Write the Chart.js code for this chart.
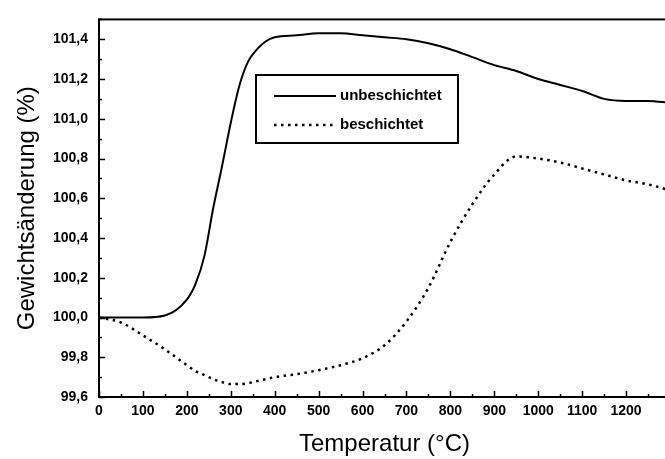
<!DOCTYPE html>
<html>
<head>
<meta charset="utf-8">
<script src="https://cdn.jsdelivr.net/npm/chart.js@4.4.1/dist/chart.umd.min.js"></script>
<style>
  html, body { margin: 0; padding: 0; background: #fff; overflow: hidden; }
  canvas { display: block; }
</style>
</head>
<body>
<canvas id="tgChart" width="672" height="459"></canvas>
<script>
    // data

const temps = [0, 50, 100, 150, 200, 220, 240, 260, 280, 300, 320, 340, 360, 380, 400, 450,
  500, 550, 600, 650, 700, 750, 800, 850, 900, 950, 1000, 1050, 1100, 1150, 1200, 1250, 1300];

const unbeschichtet = [100.00, 100.00, 100.00, 100.01, 100.09, 100.17, 100.31, 100.55, 100.76, 100.98,
  101.17, 101.29, 101.35, 101.39, 101.41, 101.42, 101.43, 101.43, 101.42, 101.41, 101.40, 101.38,
  101.35, 101.31, 101.27, 101.24, 101.20, 101.17, 101.14, 101.10, 101.09, 101.09, 101.08];

const beschichtet = [100.00, 99.975, 99.91, 99.84, 99.76, 99.73, 99.71, 99.69, 99.675, 99.665,
  99.665, 99.67, 99.68, 99.69, 99.70, 99.715, 99.735, 99.76, 99.795, 99.86, 99.98, 100.15,
  100.38, 100.57, 100.72, 100.81, 100.80, 100.78, 100.75, 100.72, 100.69, 100.67, 100.64];

const xTicks = [0, 100, 200, 300, 400, 500, 600, 700, 800, 900, 1000, 1100, 1200];
const yTicks = [99.6, 99.8, 100.0, 100.2, 100.4, 100.6, 100.8, 101.0, 101.2, 101.4];

const FONT = '"Liberation Sans", Arial, sans-serif';

const toPoints = (vals) => temps.map((t, i) => ({ x: t, y: vals[i] }));

    // plugins

  // frame + inward tick marks (major and minor)
  const frameTicks = {
    id: 'frameTicks',
    afterDatasetsDraw(chart) {
      const { ctx, chartArea: a, scales: { x, y } } = chart;
      ctx.save();
      ctx.strokeStyle = '#000';
      ctx.lineWidth = 2;
      ctx.strokeRect(a.left, a.top, a.right - a.left, a.bottom - a.top);
      ctx.lineWidth = 1.5;
      ctx.beginPath();
      for (let v = 0; v <= 1300; v += 50) {
        const px = Math.round(x.getPixelForValue(v)) + 0.5;
        const len = v % 100 === 0 ? 6 : 3;
        ctx.moveTo(px, a.bottom);
        ctx.lineTo(px, a.bottom - len);
      }
      for (let k = 0; k <= 19; k++) {
        const v = 99.6 + k * 0.1;
        const py = Math.round(y.getPixelForValue(v)) + 0.5;
        const len = k % 2 === 0 ? 6 : 3;
        ctx.moveTo(a.left, py);
        ctx.lineTo(a.left + len, py);
      }
      ctx.stroke();
      ctx.restore();
    }
  };

  // boxed legend inside the plot
  const boxLegend = {
    id: 'boxLegend',
    afterDraw(chart) {
      const { ctx } = chart;
      const bx = 256, by = 75, bw = 202, bh = 68;
      ctx.save();
      ctx.fillStyle = '#fff';
      ctx.fillRect(bx, by, bw, bh);
      ctx.strokeStyle = '#000';
      ctx.lineWidth = 2;
      ctx.strokeRect(bx, by, bw, bh);
      ctx.font = 'bold 15px ' + FONT;
      ctx.textBaseline = 'middle';
      chart.data.datasets.forEach((ds, i) => {
        const ry = by + 21 + i * 29;
        ctx.beginPath();
        ctx.lineWidth = ds.borderWidth;
        ctx.setLineDash(ds.borderDash || []);
        ctx.moveTo(bx + 18, ry);
        ctx.lineTo(bx + 80, ry);
        ctx.stroke();
        ctx.setLineDash([]);
        ctx.fillStyle = '#000';
        ctx.fillText(ds.label, bx + 84, ry);
      });
      ctx.restore();
    }
  };

    // config

  const tgChart = new Chart(document.getElementById('tgChart'), {
    type: 'line',
    data: {
      datasets: [{
        label: 'unbeschichtet',
        data: toPoints(unbeschichtet),
        borderColor: '#000',
        borderWidth: 2,
        pointRadius: 0,
        cubicInterpolationMode: 'monotone'
      }, {
        label: 'beschichtet',
        data: toPoints(beschichtet),
        borderColor: '#000',
        borderWidth: 2.5,
        borderDash: [2.5, 4.5],
        pointRadius: 0,
        cubicInterpolationMode: 'monotone'
      }]
    },
    options: {
      responsive: false,
      animation: false,
      devicePixelRatio: 1,
      layout: { padding: { top: 15, right: 2, left: 0, bottom: 0 } },
      plugins: { legend: { display: false }, tooltip: { enabled: false } },
      scales: {
        x: {
          type: 'linear',
          min: 0,
          max: 1300,
          afterBuildTicks: (s) => { s.ticks = xTicks.map(v => ({ value: v })); },
          afterFit: (s) => { s.height = 62; },
          grid: { display: false, drawTicks: false },
          border: { display: false },
          ticks: {
            color: '#000',
            padding: 6,
            maxRotation: 0,
            autoSkip: false,
            font: { family: FONT, size: 14, weight: 'bold' },
            callback: (v) => String(v)
          },
          title: {
            display: true,
            text: 'Temperatur (°C)',
            color: '#000',
            padding: { top: 0, bottom: 0 },
            font: { family: FONT, size: 24 }
          }
        },
        y: {
          min: 99.6,
          max: 101.5,
          afterBuildTicks: (s) => { s.ticks = yTicks.map(v => ({ value: v })); },
          afterFit: (s) => { s.width = 99; },
          grid: { display: false, drawTicks: false },
          border: { display: false },
          ticks: {
            color: '#000',
            padding: 11,
            autoSkip: false,
            font: { family: FONT, size: 14, weight: 'bold' },
            callback: (v) => Number(v).toFixed(1).replace('.', ',')
          },
          title: {
            display: true,
            text: 'Gewichtsänderung (%)',
            color: '#000',
            padding: { top: 13, bottom: 0 },
            font: { family: FONT, size: 24 }
          }
        }
      }
    },
    plugins: [frameTicks, boxLegend]
  });
</script>
</body>
</html>
